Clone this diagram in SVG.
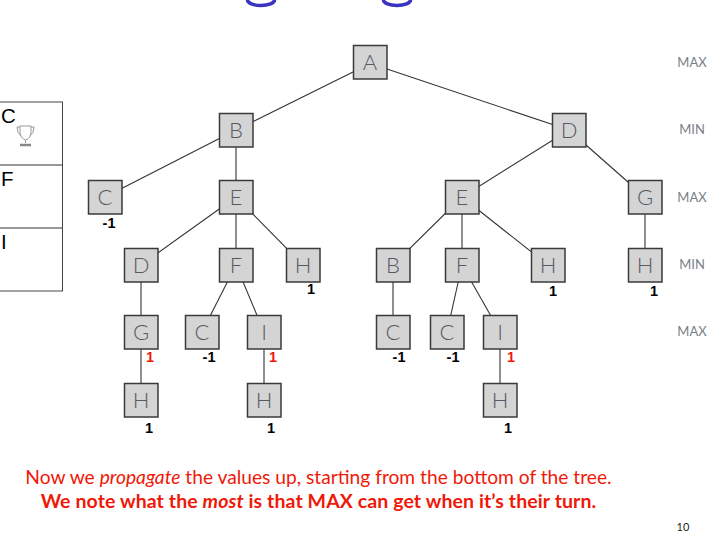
<svg xmlns="http://www.w3.org/2000/svg" width="715" height="538" viewBox="0 0 715 538">
<style>
text{font-family:Lato,"Liberation Sans",sans-serif}
.n rect{fill:#d4d4d4;stroke:#3a3a3a;stroke-width:1.5}
.n text{font-size:22px;font-weight:300;fill:#555b64;text-anchor:middle}
#connectors line{stroke:#333;stroke-width:1.1}
.v{font-family:"Liberation Sans",Arial,sans-serif;font-size:14.500px;font-weight:700;text-anchor:middle;fill:#000}
.r{fill:#f01808}
.lev{font-size:13px;fill:#7a7f85;text-anchor:middle}
.tb{font-family:"Liberation Sans",Arial,sans-serif;font-size:20.500px;fill:#000}
</style>
<g id="title-fragment" fill="none" stroke="#3a32c0" stroke-width="3.500"><path d="M247.500 0a13.500 5.500 0 0 0 27 0"/><path d="M383.500 0a13.500 5.500 0 0 0 27 0"/></g>
<g id="table">
<rect x="-2" y="102" width="64.500" height="189" fill="#fff" stroke="#444" stroke-width="1"/>
<line x1="0" y1="165" x2="62" y2="165" stroke="#333"/><line x1="0" y1="228" x2="62" y2="228" stroke="#333"/>
<text class="tb" x="1" y="123">C</text><text class="tb" x="1" y="186">F</text><text class="tb" x="1" y="249">I</text>
<g id="trophy" fill="none" stroke="#999" stroke-width="1"><path d="M20 126h11v6q0 6-5.500 8q-5.500-2-5.500-8z"/><path d="M20 127h-3q0 6 4 9M31 127h3q0 6-4 9"/><path d="M25.500 140v3"/><path d="M20 145h11" stroke-width="2.500" stroke="#888"/></g>
</g>
<g id="connectors">
<line x1="353" y1="72" x2="236" y2="130"/><line x1="387" y1="69" x2="569" y2="130"/>
<line x1="236" y1="130" x2="105" y2="197"/><line x1="236" y1="130" x2="236" y2="197"/>
<line x1="569" y1="130" x2="462" y2="197"/><line x1="569" y1="130" x2="645" y2="197"/>
<line x1="236" y1="197" x2="141" y2="265"/><line x1="236" y1="197" x2="236" y2="265"/><line x1="236" y1="197" x2="303" y2="265"/>
<line x1="462" y1="197" x2="393" y2="265"/><line x1="462" y1="197" x2="462" y2="265"/><line x1="462" y1="197" x2="548" y2="265"/>
<line x1="645" y1="197" x2="645" y2="265"/>
<line x1="141" y1="265" x2="141" y2="332"/><line x1="236" y1="265" x2="202" y2="332"/><line x1="236" y1="265" x2="264" y2="332"/>
<line x1="393" y1="265" x2="393" y2="332"/><line x1="462" y1="265" x2="447" y2="332"/><line x1="462" y1="265" x2="500" y2="332"/>
<line x1="141" y1="332" x2="141" y2="400"/><line x1="264" y1="332" x2="264" y2="400"/><line x1="500" y1="332" x2="500" y2="400"/>
</g>
<g id="nA" class="n"><rect x="353.500" y="45.500" width="33.500" height="33.500"/><text x="370" y="70">A</text></g>
<g id="nB" class="n"><rect x="219.500" y="113.500" width="33.500" height="33.500"/><text x="236" y="138">B</text></g>
<g id="nD" class="n"><rect x="552.500" y="113.500" width="33.500" height="33.500"/><text x="569" y="138">D</text></g>
<g id="nC1" class="n"><rect x="88.500" y="180.500" width="33.500" height="33.500"/><text x="105" y="205">C</text></g>
<g id="nE1" class="n"><rect x="219.500" y="180.500" width="33.500" height="33.500"/><text x="236" y="205">E</text></g>
<g id="nE2" class="n"><rect x="445.500" y="180.500" width="33.500" height="33.500"/><text x="462" y="205">E</text></g>
<g id="nG1" class="n"><rect x="628.500" y="180.500" width="33.500" height="33.500"/><text x="645" y="205">G</text></g>
<g id="nD2" class="n"><rect x="124.500" y="248.500" width="33.500" height="33.500"/><text x="141" y="273">D</text></g>
<g id="nF1" class="n"><rect x="219.500" y="248.500" width="33.500" height="33.500"/><text x="236" y="273">F</text></g>
<g id="nH1" class="n"><rect x="286.500" y="248.500" width="33.500" height="33.500"/><text x="303" y="273">H</text></g>
<g id="nB2" class="n"><rect x="376.500" y="248.500" width="33.500" height="33.500"/><text x="393" y="273">B</text></g>
<g id="nF2" class="n"><rect x="445.500" y="248.500" width="33.500" height="33.500"/><text x="462" y="273">F</text></g>
<g id="nH2" class="n"><rect x="531.500" y="248.500" width="33.500" height="33.500"/><text x="548" y="273">H</text></g>
<g id="nH3" class="n"><rect x="628.500" y="248.500" width="33.500" height="33.500"/><text x="645" y="273">H</text></g>
<g id="nG2" class="n"><rect x="124.500" y="315.500" width="33.500" height="33.500"/><text x="141" y="340">G</text></g>
<g id="nC2" class="n"><rect x="185.500" y="315.500" width="33.500" height="33.500"/><text x="202" y="340">C</text></g>
<g id="nI1" class="n"><rect x="247.500" y="315.500" width="33.500" height="33.500"/><text x="264" y="340">I</text></g>
<g id="nC3" class="n"><rect x="376.500" y="315.500" width="33.500" height="33.500"/><text x="393" y="340">C</text></g>
<g id="nC4" class="n"><rect x="430.500" y="315.500" width="33.500" height="33.500"/><text x="447" y="340">C</text></g>
<g id="nI2" class="n"><rect x="483.500" y="315.500" width="33.500" height="33.500"/><text x="500" y="340">I</text></g>
<g id="nH4" class="n"><rect x="124.500" y="383.500" width="33.500" height="33.500"/><text x="141" y="408">H</text></g>
<g id="nH5" class="n"><rect x="247.500" y="383.500" width="33.500" height="33.500"/><text x="264" y="408">H</text></g>
<g id="nH6" class="n"><rect x="483.500" y="383.500" width="33.500" height="33.500"/><text x="500" y="408">H</text></g>
<g id="values">
<text class="v" x="109" y="228">-1</text><text class="v" x="311" y="294">1</text><text class="v" x="553" y="296">1</text><text class="v" x="654" y="296">1</text>
<text class="v" x="209" y="362">-1</text><text class="v" x="399" y="362">-1</text><text class="v" x="453" y="362">-1</text>
<text class="v r" x="150" y="362">1</text><text class="v r" x="273" y="362">1</text><text class="v r" x="511" y="362">1</text>
<text class="v" x="149" y="433">1</text><text class="v" x="271" y="433">1</text><text class="v" x="508" y="433">1</text>
</g>
<g id="levels"><text class="lev" x="692" y="67">MAX</text><text class="lev" x="692" y="134">MIN</text><text class="lev" x="692" y="202">MAX</text><text class="lev" x="692" y="269">MIN</text><text class="lev" x="692" y="336">MAX</text></g>
<g id="caption" fill="#f01808">
<text x="318.500" y="484" text-anchor="middle" font-size="19.200" font-weight="400">Now we <tspan font-style="italic">propagate</tspan> the values up, starting from the bottom of the tree.</text>
<text x="318.500" y="508" text-anchor="middle" font-size="19.500" font-weight="700" letter-spacing=".1">We note what the <tspan font-style="italic">most</tspan> is that MAX can get when it’s their turn.</text>
</g>
<text x="683" y="531" font-size="11" fill="#222" text-anchor="middle">10</text>
</svg>
